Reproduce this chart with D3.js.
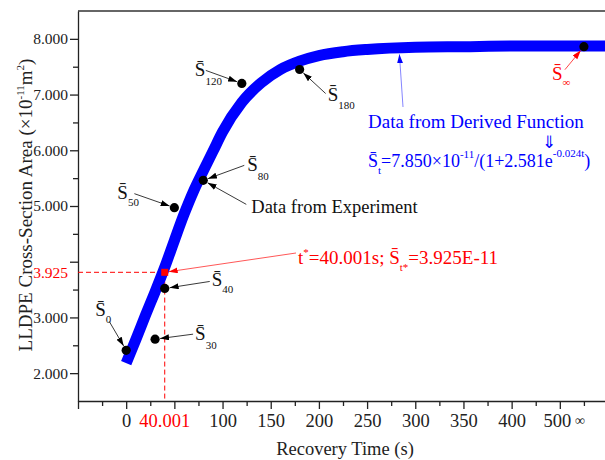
<!DOCTYPE html>
<html>
<head>
<meta charset="utf-8">
<script src="https://cdn.jsdelivr.net/npm/d3@7"></script>
<style>
  body { margin: 0; background: #fff; }
  text { font-family: "Liberation Serif", "Times New Roman", serif; }
</style>
</head>
<body>
<div class="chart"></div>
<script>
// derived function S_t
var curveT = [0, 10, 20, 30, 40, 50, 60, 70, 80, 90, 100, 120, 140, 160, 180, 200, 225, 250, 300, 350, 400, 450, 500];
var curveS = [2.18, 2.60, 3.04, 3.46, 3.90, 4.38, 4.85, 5.27, 5.63, 5.98, 6.33, 6.86, 7.21, 7.45, 7.60, 7.70, 7.77, 7.81, 7.85, 7.86, 7.87, 7.87, 7.87];

// experiment points (475 = the "infinity" slot on the axis)
var expT = [0, 30, 40, 50, 80, 120, 180, 475];
var expS = [2.41, 2.61, 3.52, 4.97, 5.46, 7.20, 7.45, 7.86];
var expSub = ["0", "30", "40", "50", "80", "120", "180", "\u221e"];

// half point t*
var tStar = 40.001;
var sStar = 3.81;
var tStarLabel = "40.001";
var sStarLabel = "3.925";

// axes
var xMajor = [-50, 0, 50, 100, 150, 200, 250, 300, 350, 400, 450];
var xMajorLabels = ["", "0", "", "100", "150", "200", "250", "300", "350", "400", "500"];
var xMinor = [-25, 25, 75, 125, 175, 225, 275, 325, 375, 425, 475];
var xInfTick = 475;
var yMajor = [2, 3, 4, 5, 6, 7, 8];
var yMajorLabels = ["2.000", "3.000", "", "5.000", "6.000", "7.000", "8.000"];
var yMinor = [2.5, 3.5, 4.5, 5.5, 6.5, 7.5];

var width = 605, height = 460;

var x = d3.scaleLinear().domain([-50, 500]).range([78, 608]);
var y = d3.scaleLinear().domain([1.5, 8.5]).range([401, 11]);

var svg = d3.select(".chart").append("svg")
  .attr("width", width)
  .attr("height", height);

// arrow heads
var defs = svg.append("defs");
[["ahBlack", "#000"], ["ahRed", "#ff0000"], ["ahBlue", "#0000ff"]].forEach(function(m) {
  defs.append("marker")
    .attr("id", m[0])
    .attr("markerUnits", "userSpaceOnUse")
    .attr("markerWidth", 10).attr("markerHeight", 7)
    .attr("refX", 9).attr("refY", 3)
    .attr("orient", "auto")
    .append("path")
    .attr("d", "M0,0L9,3L0,6Z")
    .attr("fill", m[1]);
});

// frame top
svg.append("line")
  .attr("x1", x(-50)).attr("x2", x(500))
  .attr("y1", y(8.5)).attr("y2", y(8.5))
  .attr("stroke", "#333").attr("stroke-width", 1.3);

// x axis
var xAxisG = svg.append("g").attr("transform", "translate(0," + y(1.5) + ")");
xAxisG.append("g")
  .call(d3.axisBottom(x).tickValues(xMinor).tickSize(5).tickFormat(""))
  .call(function(g) { g.select(".domain").remove(); });
xAxisG.append("g")
  .call(d3.axisBottom(x).tickValues(xMajor).tickSize(8).tickSizeOuter(0).tickPadding(5)
    .tickFormat(function(d, i) { return xMajorLabels[i]; }));
xAxisG.selectAll("text").style("font-size", "18.5px").attr("fill", "#222");
xAxisG.selectAll(".tick text").filter(function(d) { return d == 450; }).attr("dx", -3);
xAxisG.append("text")
  .attr("x", x(xInfTick) - 4).attr("y", 24)
  .attr("text-anchor", "middle")
  .attr("fill", "#222")
  .style("font-size", "14px")
  .text("\u221e");
xAxisG.append("text")
  .attr("x", x(tStar)).attr("y", 26)
  .attr("text-anchor", "middle")
  .attr("fill", "#ff0000")
  .style("font-size", "18.5px")
  .text(tStarLabel);
xAxisG.selectAll("line, path").attr("stroke", "#222").attr("stroke-width", 1.3);

// y axis
var yAxisG = svg.append("g").attr("transform", "translate(" + x(-50) + ",0)");
yAxisG.append("g")
  .call(d3.axisLeft(y).tickValues(yMinor).tickSize(5).tickFormat(""))
  .call(function(g) { g.select(".domain").remove(); });
yAxisG.append("g")
  .call(d3.axisLeft(y).tickValues(yMajor).tickSize(8).tickSizeOuter(0).tickPadding(2)
    .tickFormat(function(d, i) { return yMajorLabels[i]; }));
yAxisG.selectAll("text").style("font-size", "15.5px").attr("fill", "#222");
yAxisG.append("text")
  .attr("x", -10).attr("y", y(sStar)).attr("dy", "0.34em")
  .attr("text-anchor", "end")
  .attr("fill", "#ff0000")
  .style("font-size", "15.5px")
  .text(sStarLabel);
yAxisG.selectAll("line, path").attr("stroke", "#222").attr("stroke-width", 1.3);

// axis titles
svg.append("text")
  .attr("x", 345).attr("y", 455)
  .attr("text-anchor", "middle")
  .attr("fill", "#222")
  .style("font-size", "18.5px")
  .text("Recovery Time (s)");

var yTitle = svg.append("text")
  .attr("transform", "translate(32,205) rotate(-90)")
  .attr("text-anchor", "middle")
  .attr("fill", "#222")
  .style("font-size", "19px");
yTitle.append("tspan").text("LLDPE Cross-Section Area (\u00d710");
yTitle.append("tspan").attr("dy", -8).style("font-size", "11px").text("-11");
yTitle.append("tspan").attr("dy", 8).text("m");
yTitle.append("tspan").attr("dy", -8).style("font-size", "11px").text("2");
yTitle.append("tspan").attr("dy", 8).text(")");

// red dashed guides
svg.append("path")
  .attr("d", "M" + x(-50) + "," + y(sStar) + "H" + x(tStar) + "V" + y(1.5))
  .attr("fill", "none")
  .attr("stroke", "#ff0000")
  .attr("stroke-width", 1)
  .attr("stroke-dasharray", "5,3");

// derived curve
var curve = curveT.map(function(t, i) { return [t, curveS[i]]; });
var line = d3.line()
  .x(function(d) { return x(d[0]); })
  .y(function(d) { return y(d[1]); })
  .curve(d3.curveMonotoneX);
svg.append("path")
  .datum(curve)
  .attr("d", line)
  .attr("fill", "none")
  .attr("stroke", "#0000ff")
  .attr("stroke-width", 11);

// experiment dots
svg.selectAll(".dot")
  .data(expT)
  .enter().append("circle")
  .attr("class", "dot")
  .attr("cx", function(d) { return x(d); })
  .attr("cy", function(d, i) { return y(expS[i]); })
  .attr("r", 4.6)
  .attr("fill", "#000");

// red t* marker
svg.append("rect")
  .attr("x", x(tStar) - 3.5).attr("y", y(sStar) - 3.5)
  .attr("width", 7).attr("height", 7)
  .attr("fill", "#ff0000");

// S-bar labels: label offset, arrow start offset (relative to the dot)
var labelPos = [
  {lx: -31, ly: -34, ax: -17, ay: -29, sub: 7},
  {lx: 40, ly: 1, ax: 38, ay: -5, sub: 9},
  {lx: 47, ly: -2, ax: 45, ay: -7, sub: 7},
  {lx: -57, ly: -9, ax: -40, ay: -14, sub: 7},
  {lx: 44, ly: -9, ax: 41, ay: -15, sub: 9},
  {lx: -47, ly: -7, ax: -36, ay: -13, sub: 9},
  {lx: 28, ly: 31, ax: 26, ay: 24, sub: 8},
  {lx: -32, ly: 33, ax: -19, ay: 23, sub: 6}
];

function arrow(x1, y1, x2, y2, stop, color, marker) {
  var dx = x2 - x1, dy = y2 - y1, len = Math.sqrt(dx * dx + dy * dy);
  svg.append("line")
    .attr("x1", x1).attr("y1", y1)
    .attr("x2", x2 - dx / len * stop).attr("y2", y2 - dy / len * stop)
    .attr("stroke", color).attr("stroke-width", 0.9)
    .attr("marker-end", "url(#" + marker + ")");
}

expT.forEach(function(t, i) {
  var px = x(t), py = y(expS[i]), p = labelPos[i];
  var red = i == expT.length - 1;
  var color = red ? "#ff0000" : "#111";
  var lab = svg.append("text")
    .attr("x", px + p.lx).attr("y", py + p.ly)
    .attr("fill", color)
    .style("font-size", "19px");
  lab.append("tspan").text("S\u0304");
  lab.append("tspan").attr("dy", p.sub).style("font-size", "11px").text(expSub[i]);
  arrow(px + p.ax, py + p.ay, px, py, 5, red ? "#ff3333" : "#222", red ? "ahRed" : "ahBlack");
});

// "Data from Experiment"
var s80x = x(expT[4]), s80y = y(expS[4]);
svg.append("text")
  .attr("x", s80x + 48).attr("y", s80y + 33)
  .attr("fill", "#111")
  .style("font-size", "18.5px")
  .text("Data from Experiment");
arrow(s80x + 43, s80y + 24, s80x, s80y, 5, "#222", "ahBlack");

// "Data from Derived Function" + formula
svg.append("text")
  .attr("x", 368).attr("y", 128)
  .attr("fill", "#0000ff")
  .style("font-size", "19px")
  .text("Data from Derived Function");
arrow(403, 107, 399, y(7.83), 6, "#7777ff", "ahBlue");
svg.append("text")
  .attr("x", 549).attr("y", 148)
  .attr("text-anchor", "middle")
  .attr("fill", "#0000ff")
  .style("font-size", "17px")
  .text("\u21d3");
var f = svg.append("text")
  .attr("x", 368).attr("y", 167)
  .attr("fill", "#0000ff")
  .style("font-size", "18px");
f.append("tspan").text("S\u0304");
f.append("tspan").attr("dy", 7).style("font-size", "11px").text("t");
f.append("tspan").attr("dy", -7).text("=7.850\u00d710");
f.append("tspan").attr("dy", -9).style("font-size", "11px").text("-11");
f.append("tspan").attr("dy", 9).text("/(1+2.581e");
f.append("tspan").attr("dy", -10).style("font-size", "11px").text("-0.024t");
f.append("tspan").attr("dy", 10).text(")");

// red t* annotation
var r = svg.append("text")
  .attr("x", 298).attr("y", 264)
  .attr("fill", "#ff0000")
  .style("font-size", "19px");
r.append("tspan").text("t");
r.append("tspan").attr("dy", -8).style("font-size", "11px").text("*");
r.append("tspan").attr("dy", 8).text("=40.001s; S\u0304");
r.append("tspan").attr("dy", 7).style("font-size", "11px").text("t*");
r.append("tspan").attr("dy", -7).text("=3.925E-11");
arrow(296, 253, x(tStar), y(sStar), 4, "#ff4444", "ahRed");
</script>
</body>
</html>
